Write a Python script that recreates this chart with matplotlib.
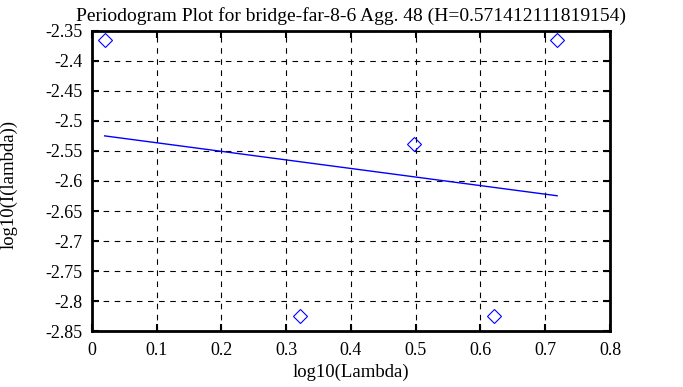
import matplotlib
matplotlib.use("Agg")
import matplotlib.pyplot as plt

# periodogram noktalari
log_lambda = [0.0195, 0.3205, 0.4966, 0.6215, 0.7184]
log_i = [-2.365, -2.825, -2.538, -2.825, -2.365]

# regresyon dogrusu (uclar)
fit_x = [0.0195, 0.7184]
fit_y = [-2.5248, -2.6246]

xticks = [0, 0.1, 0.2, 0.3, 0.4, 0.5, 0.6, 0.7, 0.8]
yticks = [-2.35, -2.4, -2.45, -2.5, -2.55, -2.6, -2.65, -2.7, -2.75, -2.8, -2.85]

plt.rcParams['font.family'] = ['Liberation Serif', 'DejaVu Serif']

fig = plt.figure(figsize=(6.83, 3.87), dpi=100)
ax = fig.add_axes([0.1347, 0.1447, 0.7584, 0.7752])

ax.plot(log_lambda, log_i, linestyle='none', marker='D', markersize=7,
        markerfacecolor='none', markeredgecolor='blue', markeredgewidth=0.8)
ax.plot(fit_x, fit_y, color='blue', linewidth=1.0)

ax.set_xlim(0, 0.8)
ax.set_ylim(-2.85, -2.35)
ax.set_xticks(xticks)
ax.set_xticklabels([f"{v:g}" for v in xticks])
ax.set_yticks(yticks)
ax.set_yticklabels([f"{v:g}" for v in yticks])
ax.grid(True, color='black', linestyle=(0, (5, 5)), linewidth=0.8)
ax.tick_params(direction='in', top=True, right=True, length=5, width=1.5, labelsize=13)
ax.tick_params(axis='x', pad=8)
ax.tick_params(axis='y', pad=7)
for s in ax.spines.values():
    s.set_linewidth(2)

ax.set_xlabel('log10(Lambda)', fontsize=13.5)
ax.xaxis.set_label_coords(0.5, -0.11)
ax.set_ylabel('log10(I(lambda))', fontsize=13.5)
ax.yaxis.set_label_coords(-0.143, 0.49)
ax.set_title('Periodogram Plot for bridge-far-8-6 Agg. 48 (H=0.571412111819154)', fontsize=14, pad=7)

plt.savefig('out.png', dpi=100)
